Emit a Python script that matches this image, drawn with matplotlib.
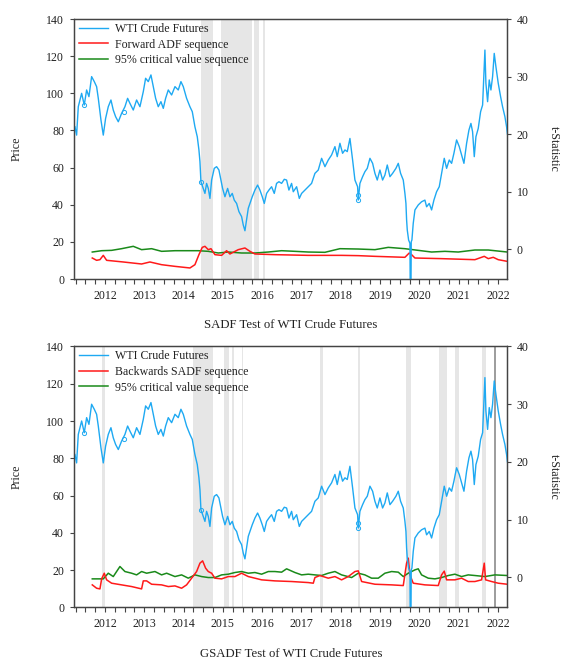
import matplotlib
matplotlib.use("Agg")
import matplotlib.pyplot as plt
import matplotlib.ticker as mticker
import numpy as np

plt.rcParams['font.family'] = ['Liberation Serif', 'DejaVu Serif']

# ---------------- data (decimal years) ----------------
price_t = [2011.735, 2011.777, 2011.820, 2011.905, 2011.972, 2012.032, 2012.091, 2012.159, 2012.227, 2012.286,
           2012.329, 2012.397, 2012.456, 2012.515, 2012.583, 2012.651, 2012.710, 2012.770, 2012.838, 2012.922,
           2013.007, 2013.075, 2013.134, 2013.219, 2013.304, 2013.389, 2013.474, 2013.533, 2013.601, 2013.669,
           2013.728, 2013.788, 2013.855, 2013.923, 2013.983, 2014.042, 2014.110, 2014.195, 2014.280, 2014.364,
           2014.432, 2014.492, 2014.576, 2014.661, 2014.721, 2014.788, 2014.848, 2014.890, 2014.916, 2014.941,
           2014.984, 2015.043, 2015.085, 2015.128, 2015.170, 2015.213, 2015.280, 2015.340, 2015.399, 2015.450,
           2015.492, 2015.552, 2015.620, 2015.679, 2015.738, 2015.789, 2015.849, 2015.908, 2015.976, 2016.018,
           2016.061, 2016.103, 2016.146, 2016.188, 2016.247, 2016.315, 2016.383, 2016.442, 2016.502, 2016.553,
           2016.612, 2016.671, 2016.739, 2016.807, 2016.866, 2016.926, 2016.994, 2017.062, 2017.121, 2017.180,
           2017.248, 2017.291, 2017.376, 2017.444, 2017.503, 2017.588, 2017.673, 2017.757, 2017.842, 2017.927,
           2018.012, 2018.097, 2018.182, 2018.266, 2018.351, 2018.410, 2018.478, 2018.546, 2018.606, 2018.665,
           2018.733, 2018.801, 2018.860, 2018.928, 2018.945, 2018.987, 2019.055, 2019.114, 2019.174, 2019.242,
           2019.310, 2019.369, 2019.428, 2019.496, 2019.564, 2019.623, 2019.683, 2019.751, 2019.818, 2019.903,
           2019.963, 2020.022, 2020.090, 2020.132, 2020.158, 2020.175, 2020.192, 2020.226, 2020.260, 2020.277,
           2020.293, 2020.310, 2020.344, 2020.387, 2020.472, 2020.556, 2020.641, 2020.684, 2020.751, 2020.811,
           2020.870, 2020.938, 2021.006, 2021.065, 2021.133, 2021.193, 2021.260, 2021.320, 2021.379, 2021.447,
           2021.515, 2021.574, 2021.634, 2021.702, 2021.761, 2021.812, 2021.854, 2021.897, 2021.939, 2021.998,
           2022.058, 2022.109, 2022.143, 2022.168, 2022.193, 2022.236, 2022.278, 2022.321, 2022.363, 2022.405,
           2022.448, 2022.507, 2022.567, 2022.617, 2022.677, 2022.719, 2022.742]
price_v = [82.0, 77.5, 92.8, 100.0, 93.7, 101.8, 98.2, 109.0, 106.3, 103.6,
           97.3, 85.6, 77.5, 86.5, 92.8, 96.4, 91.0, 87.4, 84.7, 89.2,
           92.8, 97.3, 94.6, 91.0, 96.4, 92.8, 100.9, 108.1, 106.3, 109.9,
           103.6, 97.3, 92.8, 95.5, 91.9, 97.3, 101.8, 99.1, 103.6, 101.8,
           106.3, 103.6, 97.3, 92.8, 90.1, 82.0, 76.6, 69.5, 63.2, 52.4,
           49.7, 46.1, 51.5, 48.8, 43.4, 53.3, 59.6, 60.5, 58.7, 53.3,
           48.8, 44.3, 48.8, 44.3, 46.1, 42.5, 40.7, 36.3, 33.6, 29.1,
           26.0, 31.8, 38.1, 40.7, 44.3, 47.9, 50.6, 47.9, 44.3, 40.7,
           46.1, 47.9, 49.7, 46.1, 51.5, 52.4, 51.5, 53.7, 53.3, 47.9,
           51.5, 47.0, 49.7, 43.4, 46.1, 47.9, 49.7, 51.5, 56.9, 58.7,
           65.0, 60.5, 64.1, 66.8, 71.3, 65.9, 73.1, 67.7, 69.5, 68.6,
           75.7, 64.1, 53.3, 49.7, 42.5, 51.5, 55.1, 57.8, 59.6, 65.0,
           62.3, 56.9, 53.3, 58.7, 53.3, 56.0, 61.4, 55.1, 56.9, 59.6,
           62.3, 56.9, 53.3, 46.1, 40.7, 31.8, 26.4, 21.0, 19.2, -37.6,
           20.1, 21.0, 30.0, 37.2, 39.9, 41.6, 42.5, 38.9, 40.7, 37.2,
           42.5, 47.0, 49.7, 56.9, 65.0, 59.6, 64.1, 62.3, 67.7, 74.9,
           71.3, 66.8, 62.3, 73.1, 80.2, 83.8, 79.3, 65.9, 76.6, 81.1,
           90.1, 93.7, 110.7, 123.3, 105.4, 95.5, 107.2, 101.8, 109.0, 121.5,
           114.3, 105.4, 98.2, 92.8, 87.4, 82.0, 78.0]
# isolated observations drawn as hollow circles
iso_t = [2011.972, 2012.980, 2014.941, 2018.945, 2018.945]
iso_v = [93.7, 90.1, 52.4, 45.2, 42.5]

# SADF panel
fadf_t = [2012.176, 2012.286, 2012.371, 2012.456, 2012.541, 2012.965, 2013.431, 2013.643, 2013.940, 2014.280,
          2014.661, 2014.788, 2014.890, 2014.975, 2015.043, 2015.128, 2015.196, 2015.297, 2015.467, 2015.594,
          2015.679, 2015.891, 2016.061, 2016.188, 2016.315, 2016.824, 2017.672, 2018.520, 2018.945, 2019.369,
          2020.132, 2020.242, 2020.302, 2020.387, 2021.065, 2021.913, 2022.151, 2022.253, 2022.380, 2022.507,
          2022.736]
fadf_v = [-1.51, -1.91, -1.80, -1.05, -1.91, -2.20, -2.55, -2.20, -2.67, -2.96,
          -3.24, -2.67, -0.93, 0.34, 0.52, -0.06, 0.11, -0.93, -1.05, -0.24,
          -0.81, -0.06, 0.23, -0.35, -0.81, -0.93, -1.05, -1.05, -1.10, -1.22,
          -1.39, -0.64, -0.93, -1.51, -1.62, -1.80, -1.22, -1.62, -1.39, -1.80,
          -2.09]
cv1_t = [2012.176, 2012.414, 2012.668, 2012.922, 2013.219, 2013.431, 2013.686, 2013.940, 2014.280, 2014.619,
         2014.873, 2015.128, 2015.382, 2015.637, 2015.976, 2016.315, 2016.655, 2016.994, 2017.333, 2017.672,
         2018.096, 2018.478, 2018.945, 2019.369, 2019.708, 2020.132, 2020.471, 2020.811, 2021.150, 2021.489,
         2021.913, 2022.253, 2022.736]
cv1_v = [-0.47, -0.24, -0.18, 0.11, 0.52, -0.06, 0.11, -0.35, -0.24, -0.24,
         -0.24, -0.35, -0.64, -0.47, -0.64, -0.64, -0.47, -0.24, -0.35, -0.47,
         -0.52, 0.11, 0.05, -0.06, 0.34, 0.11, -0.18, -0.47, -0.35, -0.47,
         -0.12, -0.12, -0.47]

# GSADF panel
bsadf_t = [2012.176, 2012.286, 2012.371, 2012.414, 2012.481, 2012.541, 2012.668, 2012.922, 2013.177, 2013.431,
           2013.474, 2013.559, 2013.686, 2013.940, 2014.110, 2014.280, 2014.449, 2014.576, 2014.704, 2014.831,
           2014.916, 2014.984, 2015.060, 2015.128, 2015.213, 2015.297, 2015.467, 2015.637, 2015.806, 2015.976,
           2016.146, 2016.315, 2016.485, 2016.824, 2017.248, 2017.672, 2017.800, 2017.842, 2017.969, 2018.181,
           2018.351, 2018.520, 2018.690, 2018.860, 2018.945, 2019.030, 2019.369, 2019.793, 2020.090, 2020.174,
           2020.217, 2020.259, 2020.344, 2020.641, 2020.980, 2021.065, 2021.133, 2021.193, 2021.404, 2021.574,
           2021.743, 2021.913, 2022.083, 2022.151, 2022.185, 2022.337, 2022.507, 2022.736]
bsadf_v = [-1.28, -1.86, -1.98, -0.24, 0.74, -0.41, -0.99, -1.28, -1.57, -1.98,
           -0.59, -0.59, -1.17, -1.28, -1.57, -1.46, -1.86, -1.28, -0.12, 1.03,
           2.48, 2.88, 1.61, 1.03, 0.74, -0.12, -0.24, 0.16, 0.16, 0.74,
           0.16, -0.12, -0.41, -0.59, -0.70, -0.88, -0.99, -0.01, 0.34, -0.12,
           0.16, -0.41, 0.16, 1.03, 1.15, -0.70, -1.17, -1.28, -1.40, 2.48,
           3.35, 0.45, -0.99, -1.28, -1.40, 0.45, 1.10, -0.41, -0.41, -0.12,
           -0.70, -0.70, -0.41, 2.48, -0.41, -0.70, -0.99, -1.17]
cv2_t = [2012.176, 2012.456, 2012.583, 2012.710, 2012.880, 2013.007, 2013.177, 2013.304, 2013.431, 2013.559,
         2013.771, 2013.940, 2014.068, 2014.280, 2014.449, 2014.619, 2014.788, 2014.958, 2015.128, 2015.297,
         2015.467, 2015.637, 2015.806, 2015.976, 2016.146, 2016.315, 2016.485, 2016.655, 2016.824, 2016.994,
         2017.121, 2017.333, 2017.503, 2017.672, 2017.842, 2018.011, 2018.181, 2018.351, 2018.520, 2018.775,
         2018.945, 2019.114, 2019.284, 2019.454, 2019.623, 2019.793, 2019.963, 2020.090, 2020.217, 2020.387,
         2020.471, 2020.556, 2020.726, 2020.896, 2021.065, 2021.235, 2021.404, 2021.574, 2021.743, 2021.913,
         2022.168, 2022.422, 2022.736]
cv2_v = [-0.24, -0.24, 0.74, 0.16, 1.90, 1.03, 0.74, 0.45, 1.03, 0.74,
         1.03, 0.45, 0.74, 0.16, 0.45, -0.12, 0.45, 0.16, -0.01, -0.01,
         0.45, 0.57, 0.86, 1.03, 0.74, 0.86, 0.57, 1.03, 1.03, 0.92,
         1.50, 0.86, 0.45, 0.57, 0.45, 0.34, 0.74, 1.03, 0.45, -0.01,
         0.74, 0.45, -0.12, -0.12, 0.74, 1.03, 0.92, 0.16, 0.74, 1.32,
         1.50, 0.45, -0.12, -0.24, -0.01, 0.34, 0.57, 0.16, 0.45, 0.34,
         0.16, 0.45, 0.34]

# bubble (shaded) periods
shade1_start = [2014.934, 2015.458, 2016.290, 2016.527]
shade1_end = [2015.239, 2016.232, 2016.425, 2016.570]
shade2_start = [2012.415, 2014.746, 2015.527, 2015.738, 2015.977, 2017.970, 2018.944, 2020.150, 2021.005, 2021.405, 2022.099]
shade2_end = [2012.499, 2015.254, 2015.662, 2015.789, 2016.018, 2018.053, 2018.987, 2020.277, 2021.193, 2021.514, 2022.194]
dark2_start = [2022.405]
dark2_end = [2022.447]

years = list(range(2012, 2023))
year_labels = [str(y) for y in years]

panel_titles = ["SADF Test of WTI Crude Futures", "GSADF Test of WTI Crude Futures"]
stat_names = ["Forward ADF sequence", "Backwards SADF sequence"]

# ---------------- styling ----------------
BLUE = '#1EA9F2'
RED = '#FF1A1A'
GREEN = '#1A8A1A'
SHADE = '#E6E6E6'
TXT = '#222222'
SP = '#444444'
FS = 8.6

fig = plt.figure(figsize=(5.86, 6.68), dpi=100)

positions = [[0.1271, 0.5823, 0.7389, 0.3892],
             [0.1271, 0.0909, 0.7389, 0.3904]]
title_y = [1 - 325 / 668, 1 - 654 / 668]

panels = [
    (fadf_t, fadf_v, cv1_t, cv1_v, shade1_start, shade1_end, [], []),
    (bsadf_t, bsadf_v, cv2_t, cv2_v, shade2_start, shade2_end, dark2_start, dark2_end),
]

for i, (st, sv, ct, cv, s0, s1, d0, d1) in enumerate(panels):
    ax = fig.add_axes(positions[i])          # t-statistic axis (right)
    axp = ax.twinx()                          # price axis (left), drawn on top
    ax.yaxis.tick_right()
    ax.yaxis.set_label_position('right')
    axp.yaxis.tick_left()
    axp.yaxis.set_label_position('left')

    for a, b in zip(s0, s1):
        ax.axvspan(a, b, color=SHADE, lw=0, zorder=0)
    for a, b in zip(d0, d1):
        ax.axvspan(a, b, color='#9E9E9E', lw=0, zorder=0)

    l2, = ax.plot(st, sv, color=RED, lw=1.1, zorder=3, label=stat_names[i])
    l3, = ax.plot(ct, cv, color=GREEN, lw=1.1, zorder=2, label='95% critical value sequence')
    l1, = axp.plot(price_t, price_v, color=BLUE, lw=1.0, label='WTI Crude Futures')
    axp.plot(iso_t, iso_v, 'o', ms=3, mfc='none', mec=BLUE, mew=0.7)

    ax.set_ylim(-5.16, 40)
    ax.set_yticks([0, 10, 20, 30, 40])
    axp.set_ylim(0, 140)
    axp.set_yticks([0, 20, 40, 60, 80, 100, 120, 140])
    ax.set_xlim(2011.723, 2022.742)

    ax.xaxis.set_major_locator(mticker.FixedLocator(np.arange(2011.75, 2022.76, 0.25)))
    ax.xaxis.set_major_formatter(mticker.NullFormatter())
    ax.tick_params(axis='x', which='major', length=3.3, width=0.8, color=SP, direction='out')
    ax.tick_params(axis='y', length=3, width=0.8, color=SP, pad=3.5, labelsize=FS, labelcolor=TXT)
    axp.tick_params(axis='y', length=3, width=0.8, color=SP, pad=4.5, labelsize=FS, labelcolor=TXT)

    # year labels centred in each year
    for y, lab in zip(years, year_labels):
        ax.text(y + 0.5, -16.5 / 260, lab, transform=ax.get_xaxis_transform(),
                ha='center', va='center', fontsize=FS, color=TXT)

    for a in (ax, axp):
        for s in a.spines.values():
            s.set_color(SP)
            s.set_linewidth(0.9)

    axp.set_ylabel('Price', fontsize=FS, color=TXT)
    axp.yaxis.set_label_coords(-0.119, 0.5)
    ax.set_ylabel('t-Statistic', fontsize=FS, color=TXT, rotation=270, va='center')
    ax.yaxis.set_label_coords(1.106, 0.5)

    leg = axp.legend(handles=[l1, l2, l3], loc='upper left', bbox_to_anchor=(0.011, 0.985),
                     frameon=False, fontsize=FS, handlelength=2.4, handletextpad=0.6,
                     labelspacing=0.3, borderpad=0, borderaxespad=0)
    for t in leg.get_texts():
        t.set_color(TXT)

    fig.text(positions[i][0] + positions[i][2] / 2, title_y[i], panel_titles[i],
             ha='center', va='center', fontsize=FS + 0.6, color=TXT)

fig.savefig('out.png', dpi=100)
